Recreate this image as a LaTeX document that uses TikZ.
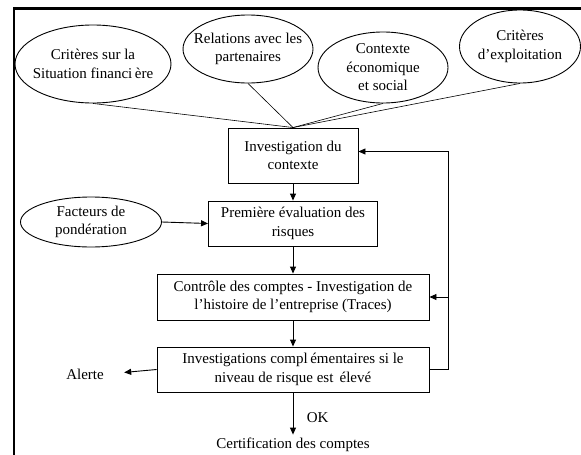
\documentclass[tikz,border=0pt]{standalone}
\usepackage{fontspec}
\setmainfont{Liberation Serif}
\usepackage{tikz}
\usetikzlibrary{arrows.meta, shapes.geometric}
\tikzset{%
	etape/.style={
		draw,
		line width=0.9pt,
		align=center,
		inner sep=0pt
	},
	critere/.style={
		ellipse,
		draw,
		line width=0.9pt,
		inner sep=0pt
	},
	fleche/.style={
		-{Triangle[length=7pt,width=6pt]},
		line width=0.9pt
	},
}

\begin{document}
\begin{tikzpicture}[x=1pt,y=-1pt,font=\fontsize{15}{18.5}\selectfont]
		\useasboundingbox (0,0) rectangle (581,455);
		% Draw the frame
		\draw[line width=2.5pt] (581,8.5) -- (14,8.5) -- (14,455);
		
		% Draw the criteria
		\node[critere, minimum width=156pt, minimum height=78pt] (critfin) at (93,64) {};
		\node[align=center] (critfin-txt) at (critfin) {Critères sur la\\Situation financi\,ère};
		\node[critere, minimum width=130pt, minimum height=68pt] (relations) at (248,49) {};
		\node[align=center] (relations-txt) at (relations) {Relations avec les\\partenaires};
		\node[critere, minimum width=130pt, minimum height=71pt] (ecosoc) at (383,67.5) {};
		\node[align=center] (ecosoc-txt) at (ecosoc) {Contexte\\économique\\et social};
		\node[critere, minimum width=121pt, minimum height=73pt] (exploit) at (520,46.5) {};
		\node[align=center] (exploit-txt) at (exploit) {Critères\\d'exploitation};
		\node[critere, minimum width=141pt, minimum height=50pt] (ponder) at (91,222) {};
		\node[align=center] (ponder-txt) at (ponder) {Facteurs de\\pondération};
		
		% Draw the steps
		\node[etape, minimum width=130pt, minimum height=55pt] (contexte) at (293,155.5) {Investigation du\\contexte};
		\node[etape, minimum width=169pt, minimum height=45pt] (evaluation) at (293,223.5) {Première évaluation des\\risques};
		\node[etape, minimum width=272pt, minimum height=46pt] (controle) at (293,297) {Contrôle des comptes - Investigation de\\l'histoire de l'entreprise (Traces)};
		\node[etape, minimum width=272pt, minimum height=45pt] (complement) at (293,369.5) {Investigations compl\,émentaires si le\\niveau de risque est \,élevé};
		\node (alerte) at (85,374) {Alerte};
		\node (certif) at (293,445) {Certification des comptes};
		
		% Draw the arrows
		\foreach \c in {critfin, relations, ecosoc, exploit}
			\draw[line width=0.6pt] (\c.south) -- (contexte.north);
		\draw[fleche] (ponder.east) -- (evaluation.west);
		\draw[fleche] (contexte) -- (evaluation);
		\draw[fleche] (evaluation) -- (controle);
		\draw[fleche] (controle) -- (complement);
		\draw[fleche] (complement.east) -- ++(19,0) coordinate (retour) |- ([yshift=4pt]contexte.east);
		\draw[fleche] (retour |- controle.east) -- (controle.east);
		\draw[fleche, shorten >=17pt] (complement.west) -- (alerte.east);
		\draw[fleche] (complement.south) -- node[pos=0.6, right=10pt] (ok) {OK} (certif.north);
	\end{tikzpicture}
\end{document}
